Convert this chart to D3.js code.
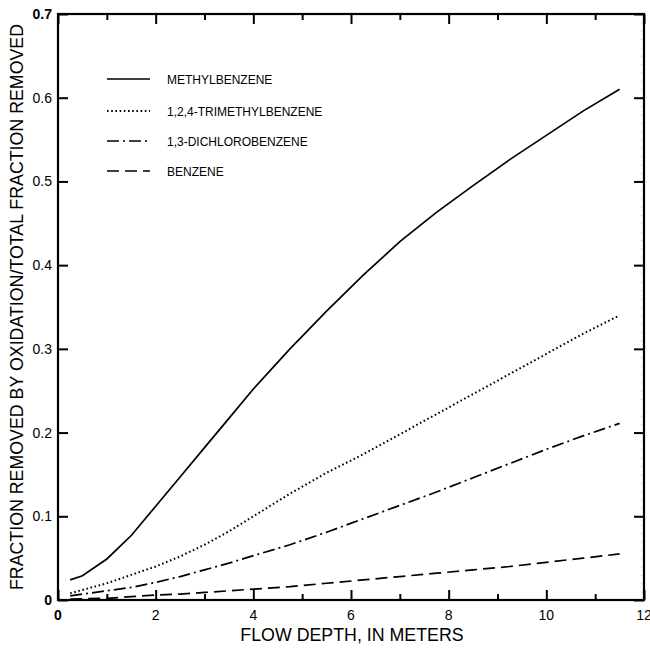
<!DOCTYPE html>
<html lang="en">
<head>
    <meta charset="UTF-8">
    <title>Fraction removed by oxidation</title>
    <script src="https://d3js.org/d3.v7.min.js"></script>
    <style>
        body {
            margin: 0;
            background-color: #fff;
            font-family: 'Liberation Sans', Arial, sans-serif;
        }
        svg text {
            fill: #000;
        }
        .tick-label {
            font-size: 14px;
        }
        .axis-title {
            font-size: 17.8px;
        }
        .legend-label {
            font-size: 12px;
        }
    </style>
</head>
<body>
    <svg width="650" height="648"></svg>

    <script>
        // flow depth, in meters (shared by all curves)
        var depth = [0.25, 0.5, 1, 1.5, 2, 2.5, 3, 3.5, 4, 4.75, 5.5, 6.25, 7, 7.75, 8.5, 9.25, 10, 10.75, 11.5];

        var methylbenzene = [0.024, 0.029, 0.049, 0.077, 0.112, 0.147, 0.182, 0.217, 0.252, 0.300, 0.345, 0.388, 0.428, 0.463, 0.495, 0.526, 0.555, 0.584, 0.610];
        var trimethylbenzene = [0.008, 0.012, 0.020, 0.030, 0.040, 0.052, 0.066, 0.082, 0.100, 0.127, 0.152, 0.174, 0.198, 0.222, 0.246, 0.270, 0.294, 0.318, 0.340];
        var dichlorobenzene = [0.005, 0.007, 0.011, 0.015, 0.021, 0.028, 0.036, 0.044, 0.053, 0.066, 0.081, 0.097, 0.113, 0.129, 0.146, 0.163, 0.180, 0.196, 0.211];
        var benzene = [0.001, 0.0015, 0.002, 0.004, 0.006, 0.007, 0.009, 0.011, 0.013, 0.016, 0.020, 0.024, 0.028, 0.032, 0.036, 0.040, 0.045, 0.050, 0.055];

        var seriesNames = ["METHYLBENZENE", "1,2,4-TRIMETHYLBENZENE", "1,3-DICHLOROBENZENE", "BENZENE"];
        var seriesValues = [methylbenzene, trimethylbenzene, dichlorobenzene, benzene];
        var dashes = [null, "1.6,2.6", "12,4,2,4", "12,6"];

        var xTicks = [0, 2, 4, 6, 8, 10, 12];
        var yTicks = [0, 0.1, 0.2, 0.3, 0.4, 0.5, 0.6, 0.7];

        var plot = { left: 58, right: 644, top: 14, bottom: 600 };

        var svg = d3.select("svg");

        var x = d3.scaleLinear().domain([0, 12]).range([plot.left, plot.right]);
        var y = d3.scaleLinear().domain([0, 0.7]).range([plot.bottom, plot.top]);

        // minor ticks (odd meters, hundredths)
        var xMinor = d3.range(1, 12, 2);
        var yMinor = d3.range(1, 70).filter(function(i) { return i % 10 != 0; }).map(function(i) { return i / 100; });

        // faint minor ticks on the right edge
        svg.append("g")
            .attr("transform", "translate(" + plot.right + ",0)")
            .call(d3.axisRight(y).tickValues(yMinor).tickSize(-3).tickFormat(""))
            .call(function(g) {
                g.select(".domain").remove();
                g.selectAll("line").attr("stroke", "#d8d8d8").attr("stroke-width", 1);
            });

        function styleAxis(g) {
            g.select(".domain").remove();
            g.selectAll("line").attr("stroke", "#000").attr("stroke-width", 2);
            g.selectAll("text").remove();
        }

        // major ticks on all four sides, pointing inward
        svg.append("g").attr("transform", "translate(0," + plot.bottom + ")")
            .call(d3.axisBottom(x).tickValues(xTicks).tickSize(-10)).call(styleAxis);
        svg.append("g").attr("transform", "translate(0," + plot.top + ")")
            .call(d3.axisTop(x).tickValues(xTicks).tickSize(-10)).call(styleAxis);
        svg.append("g").attr("transform", "translate(0," + plot.bottom + ")")
            .call(d3.axisBottom(x).tickValues(xMinor).tickSize(-6)).call(styleAxis);
        svg.append("g").attr("transform", "translate(0," + plot.top + ")")
            .call(d3.axisTop(x).tickValues(xMinor).tickSize(-6)).call(styleAxis);
        svg.append("g").attr("transform", "translate(" + plot.left + ",0)")
            .call(d3.axisLeft(y).tickValues(yTicks).tickSize(-10)).call(styleAxis);
        svg.append("g").attr("transform", "translate(" + plot.right + ",0)")
            .call(d3.axisRight(y).tickValues(yTicks).tickSize(-10)).call(styleAxis);

        // frame
        svg.append("rect")
            .attr("x", plot.left).attr("y", plot.top)
            .attr("width", plot.right - plot.left).attr("height", plot.bottom - plot.top)
            .attr("fill", "none").attr("stroke", "#000").attr("stroke-width", 2.2);

        // tick labels
        svg.selectAll(".xlab").data(xTicks).enter().append("text")
            .attr("class", "tick-label")
            .attr("x", function(d) { return x(d); })
            .attr("y", plot.bottom + 20)
            .attr("text-anchor", "middle")
            .attr("font-weight", function(d) { return d == 0 ? "bold" : "normal"; })
            .text(function(d) { return d; });

        svg.selectAll(".ylab").data(yTicks).enter().append("text")
            .attr("class", "tick-label")
            .attr("x", plot.left - 6)
            .attr("y", function(d) { return y(d) + 5; })
            .attr("text-anchor", "end")
            .attr("font-weight", function(d) { return (d == 0 || d == 0.7) ? "bold" : "normal"; })
            .text(function(d) { return d; });

        // axis titles
        svg.append("text").attr("class", "axis-title")
            .attr("x", 352).attr("y", 641)
            .attr("text-anchor", "middle")
            .text("FLOW DEPTH, IN METERS");

        svg.append("text").attr("class", "axis-title")
            .attr("transform", "translate(23," + ((plot.top + plot.bottom) / 2) + ") rotate(-90)")
            .attr("text-anchor", "middle")
            .text("FRACTION REMOVED BY OXIDATION/TOTAL FRACTION REMOVED");

        // curves
        var line = d3.line()
            .x(function(d, i) { return x(depth[i]); })
            .y(function(d) { return y(d); });

        svg.selectAll(".curve").data(seriesValues).enter().append("path")
            .attr("class", "curve")
            .attr("d", line)
            .attr("fill", "none")
            .attr("stroke", "#000")
            .attr("stroke-width", function(d, i) { return i == 1 ? 2 : 1.7; })
            .attr("stroke-dasharray", function(d, i) { return dashes[i]; });

        // legend
        var legendY = [79, 111, 141, 171];
        var legend = svg.selectAll(".legend").data(seriesNames).enter().append("g")
            .attr("transform", function(d, i) { return "translate(0," + legendY[i] + ")"; });

        legend.append("line")
            .attr("x1", 107).attr("x2", 150)
            .attr("y1", 0).attr("y2", 0)
            .attr("stroke", "#000")
            .attr("stroke-width", function(d, i) { return i == 1 ? 2 : 1.7; })
            .attr("stroke-dasharray", function(d, i) { return dashes[i]; });

        legend.append("text")
            .attr("class", "legend-label")
            .attr("x", 167).attr("y", 4.5)
            .text(function(d) { return d; });
    </script>
</body>
</html>
